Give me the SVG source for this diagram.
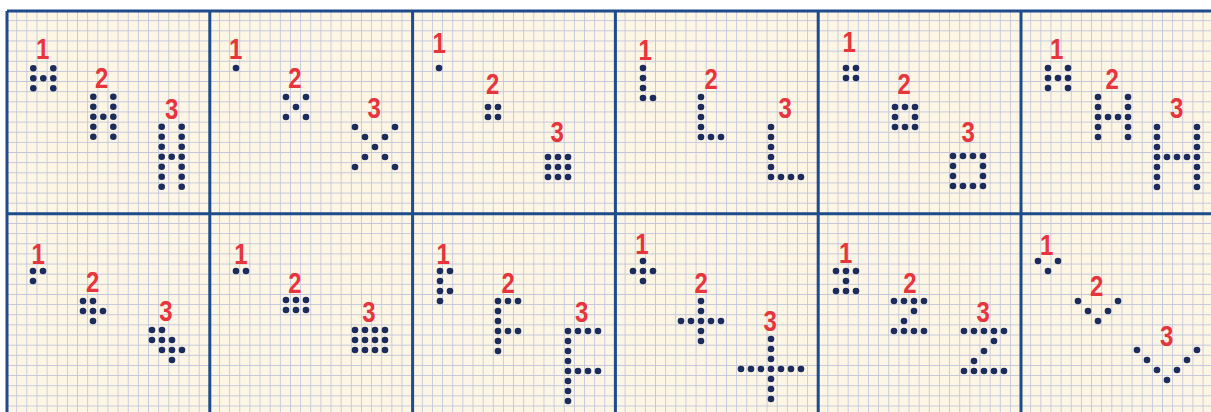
<svg xmlns="http://www.w3.org/2000/svg" width="1211" height="412" viewBox="0 0 1211 412">
<style>
.d{fill:#1b2b5c}
.n{fill:#e8343c;font-family:"Liberation Sans",Arial,sans-serif;font-weight:bold;font-size:24px;text-anchor:middle;transform-box:fill-box;transform-origin:center;transform:scaleY(1.2)}
.b{stroke:#1e4b8c;stroke-width:3;fill:none}
</style>
<defs>
<pattern id="grid" x="7" y="11" width="10.14" height="10.14" patternUnits="userSpaceOnUse">
<path d="M10.14 0V10.14M0 10.14H10.14" stroke="#c2c5dc" stroke-width="1.7" fill="none"/>
</pattern>
</defs>
<rect x="0" y="0" width="1211" height="412" fill="#ffffff"/>
<rect x="7" y="11" width="1204" height="401" fill="#fdf6e4"/>
<rect x="7" y="11" width="1204" height="401" fill="url(#grid)"/>
<g id="borders">
<path class="b" d="M7 11H1211M7 213.8H1211M7 11V412M209.8 11V412M412.6 11V412M615.4 11V412M818.2 11V412M1021 11V412"/>
</g>

<g id="panel-1">
<text class="n" x="42.7" y="57">1</text><text class="n" x="101.7" y="86">2</text><text class="n" x="171.7" y="117">3</text>
<circle class="d" cx="33.3" cy="68.3" r="3.3"/><circle class="d" cx="53.3" cy="68.3" r="3.3"/><circle class="d" cx="33.3" cy="78.3" r="3.3"/><circle class="d" cx="43.3" cy="78.3" r="3.3"/><circle class="d" cx="53.3" cy="78.3" r="3.3"/><circle class="d" cx="33.3" cy="88.3" r="3.3"/><circle class="d" cx="53.3" cy="88.3" r="3.3"/>
<circle class="d" cx="93.3" cy="96.7" r="3.3"/><circle class="d" cx="93.3" cy="106.7" r="3.3"/><circle class="d" cx="93.3" cy="116.7" r="3.3"/><circle class="d" cx="93.3" cy="126.7" r="3.3"/><circle class="d" cx="93.3" cy="136.7" r="3.3"/>
<circle class="d" cx="113.3" cy="96.7" r="3.3"/><circle class="d" cx="113.3" cy="106.7" r="3.3"/><circle class="d" cx="113.3" cy="116.7" r="3.3"/><circle class="d" cx="113.3" cy="126.7" r="3.3"/><circle class="d" cx="113.3" cy="136.7" r="3.3"/><circle class="d" cx="103.3" cy="116.7" r="3.3"/>
<circle class="d" cx="161.7" cy="126.7" r="3.3"/><circle class="d" cx="161.7" cy="136.7" r="3.3"/><circle class="d" cx="161.7" cy="146.7" r="3.3"/><circle class="d" cx="161.7" cy="156.7" r="3.3"/><circle class="d" cx="161.7" cy="166.7" r="3.3"/><circle class="d" cx="161.7" cy="176.7" r="3.3"/><circle class="d" cx="161.7" cy="186.7" r="3.3"/>
<circle class="d" cx="181.7" cy="126.7" r="3.3"/><circle class="d" cx="181.7" cy="136.7" r="3.3"/><circle class="d" cx="181.7" cy="146.7" r="3.3"/><circle class="d" cx="181.7" cy="156.7" r="3.3"/><circle class="d" cx="181.7" cy="166.7" r="3.3"/><circle class="d" cx="181.7" cy="176.7" r="3.3"/><circle class="d" cx="181.7" cy="186.7" r="3.3"/><circle class="d" cx="171.7" cy="156.7" r="3.3"/>
</g>

<g id="panel-2">
<text class="n" x="235.7" y="57">1</text><text class="n" x="295" y="86">2</text><text class="n" x="374.3" y="116">3</text>
<circle class="d" cx="236" cy="68" r="3.3"/>
<circle class="d" cx="286" cy="97" r="3.3"/><circle class="d" cx="306" cy="97" r="3.3"/><circle class="d" cx="296" cy="107" r="3.3"/><circle class="d" cx="286" cy="117" r="3.3"/><circle class="d" cx="306" cy="117" r="3.3"/>
<circle class="d" cx="355" cy="127" r="3.3"/><circle class="d" cx="395" cy="127" r="3.3"/><circle class="d" cx="365" cy="137" r="3.3"/><circle class="d" cx="385" cy="137" r="3.3"/><circle class="d" cx="375" cy="147" r="3.3"/><circle class="d" cx="365" cy="157" r="3.3"/><circle class="d" cx="385" cy="157" r="3.3"/><circle class="d" cx="355" cy="167" r="3.3"/><circle class="d" cx="395" cy="167" r="3.3"/>
</g>

<g id="panel-3">
<text class="n" x="439.3" y="51">1</text><text class="n" x="492.7" y="92">2</text><text class="n" x="557.3" y="140">3</text>
<circle class="d" cx="439" cy="68" r="3.3"/>
<circle class="d" cx="488" cy="107" r="3.3"/><circle class="d" cx="498" cy="107" r="3.3"/><circle class="d" cx="488" cy="117" r="3.3"/><circle class="d" cx="498" cy="117" r="3.3"/>
<circle class="d" cx="548" cy="157" r="3.3"/><circle class="d" cx="558" cy="157" r="3.3"/><circle class="d" cx="568" cy="157" r="3.3"/><circle class="d" cx="548" cy="167" r="3.3"/><circle class="d" cx="558" cy="167" r="3.3"/><circle class="d" cx="568" cy="167" r="3.3"/><circle class="d" cx="548" cy="177" r="3.3"/><circle class="d" cx="558" cy="177" r="3.3"/><circle class="d" cx="568" cy="177" r="3.3"/>
</g>

<g id="panel-4">
<text class="n" x="645.3" y="58">1</text><text class="n" x="711.3" y="87">2</text><text class="n" x="785.3" y="116">3</text>
<circle class="d" cx="643" cy="68" r="3.3"/><circle class="d" cx="643" cy="78" r="3.3"/><circle class="d" cx="643" cy="88" r="3.3"/><circle class="d" cx="643" cy="98" r="3.3"/><circle class="d" cx="653" cy="98" r="3.3"/>
<circle class="d" cx="701" cy="97" r="3.3"/><circle class="d" cx="701" cy="107" r="3.3"/><circle class="d" cx="701" cy="117" r="3.3"/><circle class="d" cx="701" cy="127" r="3.3"/><circle class="d" cx="701" cy="137" r="3.3"/><circle class="d" cx="711" cy="137" r="3.3"/><circle class="d" cx="721" cy="137" r="3.3"/>
<circle class="d" cx="771" cy="127" r="3.3"/><circle class="d" cx="771" cy="137" r="3.3"/><circle class="d" cx="771" cy="147" r="3.3"/><circle class="d" cx="771" cy="157" r="3.3"/><circle class="d" cx="771" cy="167" r="3.3"/><circle class="d" cx="771" cy="177" r="3.3"/><circle class="d" cx="781" cy="177" r="3.3"/><circle class="d" cx="791" cy="177" r="3.3"/><circle class="d" cx="801" cy="177" r="3.3"/>
</g>

<g id="panel-5">
<text class="n" x="849.3" y="50">1</text><text class="n" x="904.3" y="92">2</text><text class="n" x="968.3" y="140">3</text>
<circle class="d" cx="846" cy="68" r="3.3"/><circle class="d" cx="856" cy="68" r="3.3"/><circle class="d" cx="846" cy="78" r="3.3"/><circle class="d" cx="856" cy="78" r="3.3"/>
<circle class="d" cx="895" cy="107" r="3.3"/><circle class="d" cx="905" cy="107" r="3.3"/><circle class="d" cx="915" cy="107" r="3.3"/><circle class="d" cx="895" cy="117" r="3.3"/><circle class="d" cx="915" cy="117" r="3.3"/><circle class="d" cx="895" cy="127" r="3.3"/><circle class="d" cx="905" cy="127" r="3.3"/><circle class="d" cx="915" cy="127" r="3.3"/>
<circle class="d" cx="953" cy="156" r="3.3"/><circle class="d" cx="963" cy="156" r="3.3"/><circle class="d" cx="973" cy="156" r="3.3"/><circle class="d" cx="983" cy="156" r="3.3"/><circle class="d" cx="953" cy="166" r="3.3"/><circle class="d" cx="983" cy="166" r="3.3"/><circle class="d" cx="953" cy="176" r="3.3"/><circle class="d" cx="983" cy="176" r="3.3"/><circle class="d" cx="953" cy="186" r="3.3"/><circle class="d" cx="963" cy="186" r="3.3"/><circle class="d" cx="973" cy="186" r="3.3"/><circle class="d" cx="983" cy="186" r="3.3"/>
</g>

<g id="panel-6">
<text class="n" x="1056.7" y="57">1</text><text class="n" x="1112.3" y="87">2</text><text class="n" x="1176.7" y="116">3</text>
<circle class="d" cx="1048" cy="68" r="3.3"/><circle class="d" cx="1068" cy="68" r="3.3"/><circle class="d" cx="1048" cy="78" r="3.3"/><circle class="d" cx="1058" cy="78" r="3.3"/><circle class="d" cx="1068" cy="78" r="3.3"/><circle class="d" cx="1048" cy="88" r="3.3"/><circle class="d" cx="1068" cy="88" r="3.3"/>
<circle class="d" cx="1098" cy="97" r="3.3"/><circle class="d" cx="1098" cy="107" r="3.3"/><circle class="d" cx="1098" cy="117" r="3.3"/><circle class="d" cx="1098" cy="127" r="3.3"/><circle class="d" cx="1098" cy="137" r="3.3"/>
<circle class="d" cx="1128" cy="97" r="3.3"/><circle class="d" cx="1128" cy="107" r="3.3"/><circle class="d" cx="1128" cy="117" r="3.3"/><circle class="d" cx="1128" cy="127" r="3.3"/><circle class="d" cx="1128" cy="137" r="3.3"/><circle class="d" cx="1108" cy="117" r="3.3"/><circle class="d" cx="1118" cy="117" r="3.3"/>
<circle class="d" cx="1157" cy="127" r="3.3"/><circle class="d" cx="1157" cy="137" r="3.3"/><circle class="d" cx="1157" cy="147" r="3.3"/><circle class="d" cx="1157" cy="157" r="3.3"/><circle class="d" cx="1157" cy="167" r="3.3"/><circle class="d" cx="1157" cy="177" r="3.3"/><circle class="d" cx="1157" cy="187" r="3.3"/>
<circle class="d" cx="1197" cy="127" r="3.3"/><circle class="d" cx="1197" cy="137" r="3.3"/><circle class="d" cx="1197" cy="147" r="3.3"/><circle class="d" cx="1197" cy="157" r="3.3"/><circle class="d" cx="1197" cy="167" r="3.3"/><circle class="d" cx="1197" cy="177" r="3.3"/><circle class="d" cx="1197" cy="187" r="3.3"/><circle class="d" cx="1167" cy="157" r="3.3"/><circle class="d" cx="1177" cy="157" r="3.3"/><circle class="d" cx="1187" cy="157" r="3.3"/>
</g>

<g id="panel-7">
<text class="n" x="38.3" y="262">1</text><text class="n" x="92.7" y="290">2</text><text class="n" x="166" y="319">3</text>
<circle class="d" cx="33" cy="271" r="3.3"/><circle class="d" cx="43" cy="271" r="3.3"/><circle class="d" cx="33" cy="281" r="3.3"/>
<circle class="d" cx="83" cy="301" r="3.3"/><circle class="d" cx="93" cy="301" r="3.3"/><circle class="d" cx="83" cy="311" r="3.3"/><circle class="d" cx="93" cy="311" r="3.3"/><circle class="d" cx="103" cy="311" r="3.3"/><circle class="d" cx="93" cy="321" r="3.3"/>
<circle class="d" cx="152" cy="330" r="3.3"/><circle class="d" cx="162" cy="330" r="3.3"/><circle class="d" cx="152" cy="340" r="3.3"/><circle class="d" cx="162" cy="340" r="3.3"/><circle class="d" cx="172" cy="340" r="3.3"/><circle class="d" cx="162" cy="350" r="3.3"/><circle class="d" cx="172" cy="350" r="3.3"/><circle class="d" cx="182" cy="350" r="3.3"/><circle class="d" cx="172" cy="360" r="3.3"/>
</g>

<g id="panel-8">
<text class="n" x="241" y="262">1</text><text class="n" x="295" y="291">2</text><text class="n" x="369" y="320">3</text>
<circle class="d" cx="236" cy="271" r="3.3"/><circle class="d" cx="246" cy="271" r="3.3"/>
<circle class="d" cx="286" cy="300" r="3.3"/><circle class="d" cx="296" cy="300" r="3.3"/><circle class="d" cx="306" cy="300" r="3.3"/><circle class="d" cx="286" cy="310" r="3.3"/><circle class="d" cx="296" cy="310" r="3.3"/><circle class="d" cx="306" cy="310" r="3.3"/>
<circle class="d" cx="355" cy="330" r="3.3"/><circle class="d" cx="365" cy="330" r="3.3"/><circle class="d" cx="375" cy="330" r="3.3"/><circle class="d" cx="385" cy="330" r="3.3"/><circle class="d" cx="355" cy="340" r="3.3"/><circle class="d" cx="365" cy="340" r="3.3"/><circle class="d" cx="375" cy="340" r="3.3"/><circle class="d" cx="385" cy="340" r="3.3"/><circle class="d" cx="355" cy="350" r="3.3"/><circle class="d" cx="365" cy="350" r="3.3"/><circle class="d" cx="375" cy="350" r="3.3"/><circle class="d" cx="385" cy="350" r="3.3"/>
</g>

<g id="panel-9">
<text class="n" x="443.3" y="262">1</text><text class="n" x="508.3" y="291">2</text><text class="n" x="581.7" y="320">3</text>
<circle class="d" cx="440" cy="271" r="3.3"/><circle class="d" cx="450" cy="271" r="3.3"/><circle class="d" cx="440" cy="281" r="3.3"/><circle class="d" cx="440" cy="291" r="3.3"/><circle class="d" cx="450" cy="291" r="3.3"/><circle class="d" cx="440" cy="301" r="3.3"/>
<circle class="d" cx="498" cy="301" r="3.3"/><circle class="d" cx="498" cy="311" r="3.3"/><circle class="d" cx="498" cy="321" r="3.3"/><circle class="d" cx="498" cy="331" r="3.3"/><circle class="d" cx="498" cy="341" r="3.3"/><circle class="d" cx="498" cy="351" r="3.3"/><circle class="d" cx="508" cy="301" r="3.3"/><circle class="d" cx="518" cy="301" r="3.3"/><circle class="d" cx="508" cy="331" r="3.3"/><circle class="d" cx="518" cy="331" r="3.3"/>
<circle class="d" cx="568" cy="331" r="3.3"/><circle class="d" cx="568" cy="341" r="3.3"/><circle class="d" cx="568" cy="351" r="3.3"/><circle class="d" cx="568" cy="361" r="3.3"/><circle class="d" cx="568" cy="371" r="3.3"/><circle class="d" cx="568" cy="381" r="3.3"/><circle class="d" cx="568" cy="391" r="3.3"/><circle class="d" cx="568" cy="401" r="3.3"/>
<circle class="d" cx="578" cy="331" r="3.3"/><circle class="d" cx="588" cy="331" r="3.3"/><circle class="d" cx="598" cy="331" r="3.3"/><circle class="d" cx="578" cy="371" r="3.3"/><circle class="d" cx="588" cy="371" r="3.3"/><circle class="d" cx="598" cy="371" r="3.3"/>
</g>

<g id="panel-10">
<text class="n" x="642" y="252">1</text><text class="n" x="701.3" y="291">2</text><text class="n" x="770.3" y="329">3</text>
<circle class="d" cx="643" cy="261" r="3.3"/><circle class="d" cx="633" cy="271" r="3.3"/><circle class="d" cx="643" cy="271" r="3.3"/><circle class="d" cx="653" cy="271" r="3.3"/><circle class="d" cx="643" cy="281" r="3.3"/>
<circle class="d" cx="701" cy="301" r="3.3"/><circle class="d" cx="701" cy="311" r="3.3"/><circle class="d" cx="681" cy="321" r="3.3"/><circle class="d" cx="691" cy="321" r="3.3"/><circle class="d" cx="701" cy="321" r="3.3"/><circle class="d" cx="711" cy="321" r="3.3"/><circle class="d" cx="721" cy="321" r="3.3"/><circle class="d" cx="701" cy="331" r="3.3"/><circle class="d" cx="701" cy="341" r="3.3"/>
<circle class="d" cx="771" cy="339" r="3.3"/><circle class="d" cx="771" cy="349" r="3.3"/><circle class="d" cx="771" cy="359" r="3.3"/><circle class="d" cx="741" cy="369" r="3.3"/><circle class="d" cx="751" cy="369" r="3.3"/><circle class="d" cx="761" cy="369" r="3.3"/><circle class="d" cx="771" cy="369" r="3.3"/><circle class="d" cx="781" cy="369" r="3.3"/><circle class="d" cx="791" cy="369" r="3.3"/><circle class="d" cx="801" cy="369" r="3.3"/><circle class="d" cx="771" cy="379" r="3.3"/><circle class="d" cx="771" cy="389" r="3.3"/><circle class="d" cx="771" cy="399" r="3.3"/>
</g>

<g id="panel-11">
<text class="n" x="845.7" y="261">1</text><text class="n" x="910" y="291">2</text><text class="n" x="983.3" y="320">3</text>
<circle class="d" cx="836" cy="271" r="3.3"/><circle class="d" cx="846" cy="271" r="3.3"/><circle class="d" cx="856" cy="271" r="3.3"/><circle class="d" cx="846" cy="281" r="3.3"/><circle class="d" cx="836" cy="291" r="3.3"/><circle class="d" cx="846" cy="291" r="3.3"/><circle class="d" cx="856" cy="291" r="3.3"/>
<circle class="d" cx="894" cy="301" r="3.3"/><circle class="d" cx="904" cy="301" r="3.3"/><circle class="d" cx="914" cy="301" r="3.3"/><circle class="d" cx="924" cy="301" r="3.3"/><circle class="d" cx="914" cy="311" r="3.3"/><circle class="d" cx="904" cy="321" r="3.3"/><circle class="d" cx="894" cy="331" r="3.3"/><circle class="d" cx="904" cy="331" r="3.3"/><circle class="d" cx="914" cy="331" r="3.3"/><circle class="d" cx="924" cy="331" r="3.3"/>
<circle class="d" cx="964" cy="331" r="3.3"/><circle class="d" cx="974" cy="331" r="3.3"/><circle class="d" cx="984" cy="331" r="3.3"/><circle class="d" cx="994" cy="331" r="3.3"/><circle class="d" cx="1004" cy="331" r="3.3"/><circle class="d" cx="994" cy="341" r="3.3"/><circle class="d" cx="984" cy="351" r="3.3"/><circle class="d" cx="974" cy="361" r="3.3"/><circle class="d" cx="964" cy="371" r="3.3"/><circle class="d" cx="974" cy="371" r="3.3"/><circle class="d" cx="984" cy="371" r="3.3"/><circle class="d" cx="994" cy="371" r="3.3"/><circle class="d" cx="1004" cy="371" r="3.3"/>
</g>

<g id="panel-12">
<text class="n" x="1046.7" y="253">1</text><text class="n" x="1096.7" y="294">2</text><text class="n" x="1166.7" y="344">3</text>
<circle class="d" cx="1038" cy="261" r="3.3"/><circle class="d" cx="1058" cy="261" r="3.3"/><circle class="d" cx="1048" cy="271" r="3.3"/>
<circle class="d" cx="1078" cy="301" r="3.3"/><circle class="d" cx="1118" cy="301" r="3.3"/><circle class="d" cx="1088" cy="311" r="3.3"/><circle class="d" cx="1108" cy="311" r="3.3"/><circle class="d" cx="1098" cy="321" r="3.3"/>
<circle class="d" cx="1137" cy="350" r="3.3"/><circle class="d" cx="1197" cy="350" r="3.3"/><circle class="d" cx="1147" cy="360" r="3.3"/><circle class="d" cx="1187" cy="360" r="3.3"/><circle class="d" cx="1157" cy="370" r="3.3"/><circle class="d" cx="1177" cy="370" r="3.3"/><circle class="d" cx="1167" cy="380" r="3.3"/>
</g>
</svg>
